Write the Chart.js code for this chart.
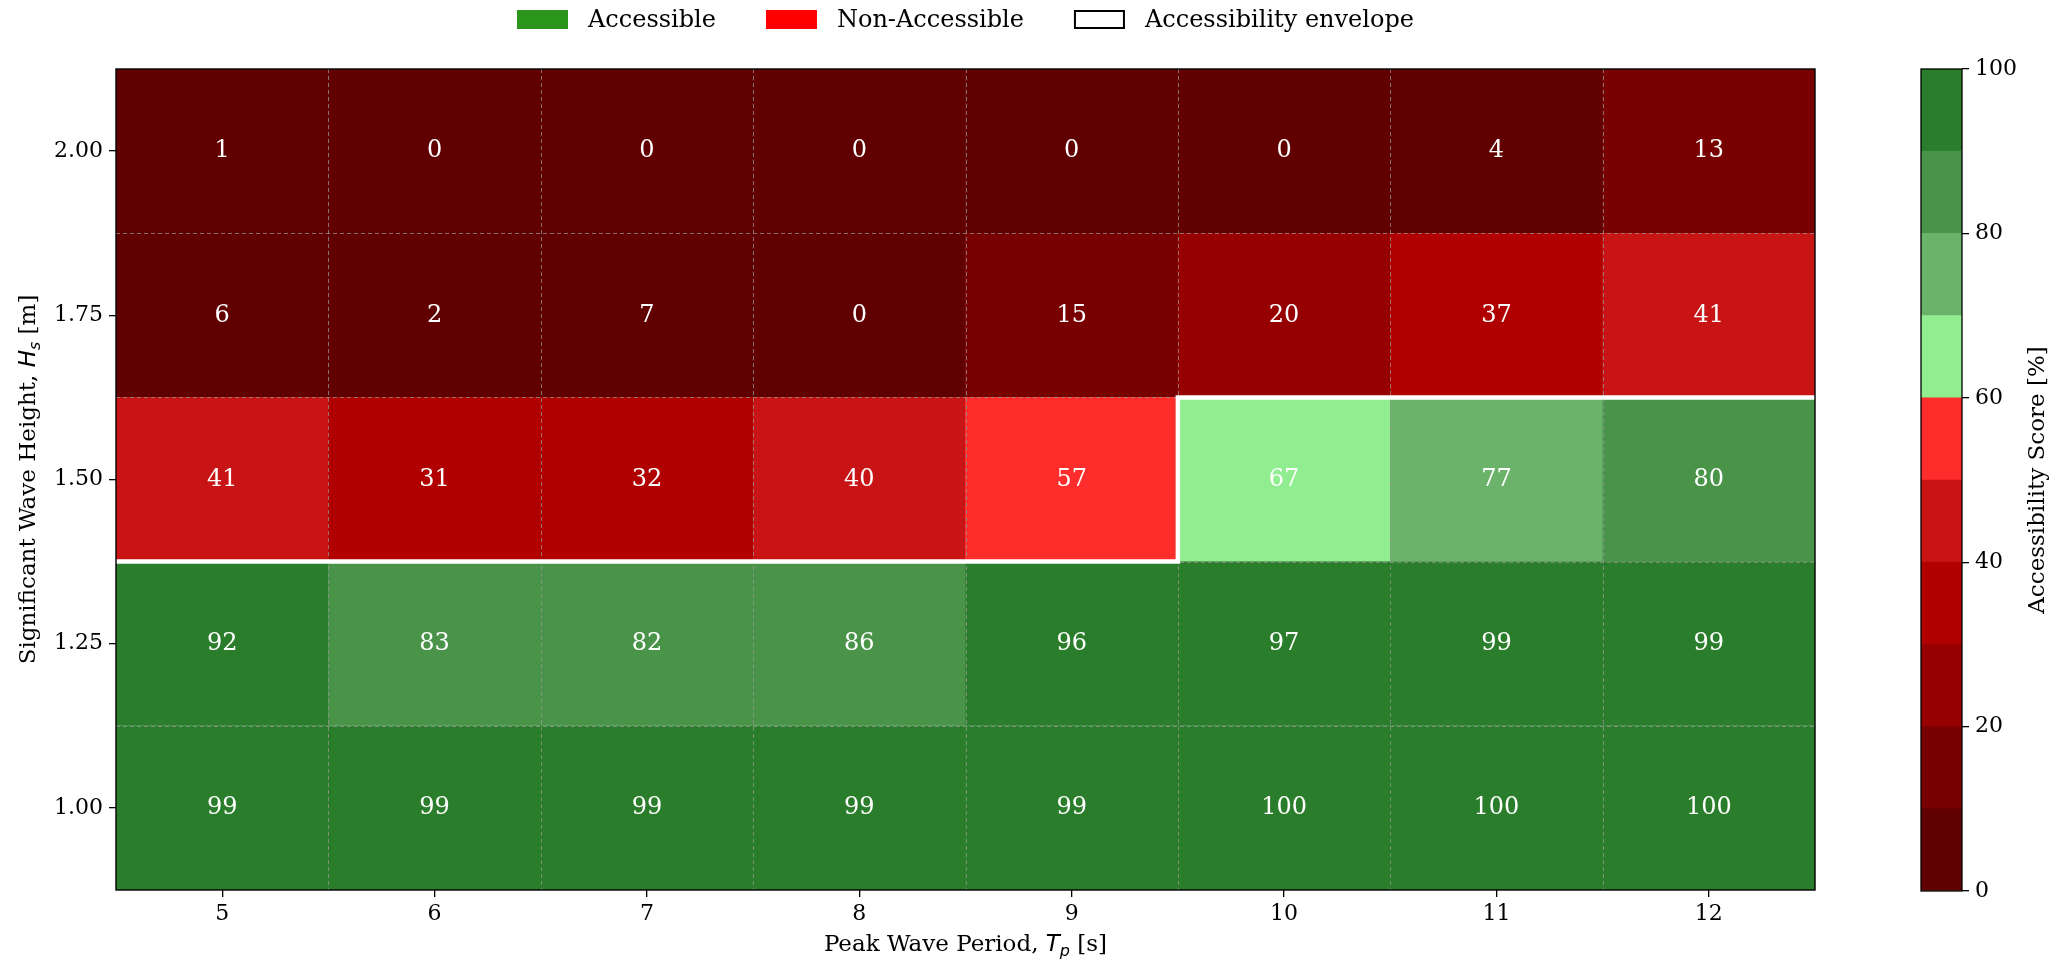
<!DOCTYPE html>
<html>
<head>
<meta charset="utf-8">
<script src="https://cdn.jsdelivr.net/npm/chart.js@4/dist/chart.umd.min.js"></script>
<style>
  html, body { margin: 0; padding: 0; background: #fff; }
  #wrap { position: relative; width: 2066px; height: 961px; overflow: hidden; }
  #wrap canvas { position: absolute; top: 0; }
</style>
</head>
<body>
<div id="wrap">
  <canvas id="heat" width="2066" height="961" style="left:0"></canvas>
  <canvas id="cbar" width="166" height="961" style="left:1900px"></canvas>
</div>
<script>
// Peak wave period Tp [s] (columns) and significant wave height Hs [m] (rows)
const periods = [5, 6, 7, 8, 9, 10, 11, 12];
const heights = [1.00, 1.25, 1.50, 1.75, 2.00];

// Accessibility score [%] for each Hs row, ordered by period
const scoreHs100 = [99, 99, 99, 99, 99, 100, 100, 100];
const scoreHs125 = [92, 83, 82, 86, 96, 97, 99, 99];
const scoreHs150 = [41, 31, 32, 40, 57, 67, 77, 80];
const scoreHs175 = [6, 2, 7, 0, 15, 20, 37, 41];
const scoreHs200 = [1, 0, 0, 0, 0, 0, 4, 13];
const scoreRows = [scoreHs100, scoreHs125, scoreHs150, scoreHs175, scoreHs200];

// Boundary between accessible and non-accessible sea states
const envelopeTp = [4.5, 9.5, 9.5, 12.5];
const envelopeHs = [1.375, 1.375, 1.625, 1.625];

// Discrete colour scale, 10 % per band
const binEdges = [0, 10, 20, 30, 40, 50, 60, 70, 80, 90, 100];
const binColors = ['#600000', '#780000', '#960000', '#b00000', '#c81414',
                   '#ff2c2c', '#90ee90', '#6bb36b', '#4a944a', '#2a7d2a'];
const colorbarTicks = [0, 20, 40, 60, 80, 100];

// Legend entries
const legendLabels = ['Accessible', 'Non-Accessible', 'Accessibility envelope'];
const legendFills = ['#2b951c', '#ff0000', '#ffffff'];

const SERIF = "'DejaVu Serif', 'Liberation Serif', serif";
const MATH = "'DejaVu Sans', sans-serif";
Chart.defaults.font.family = SERIF;
Chart.defaults.color = '#000';

function colorFor(v) {
  const i = Math.min(binColors.length - 1, Math.floor(v / 10));
  return binColors[i];
}

const halfRow = (heights[1] - heights[0]) / 2;
const halfCol = (periods[1] - periods[0]) / 2;

const cellSets = heights.map((hs, r) => ({
  type: 'bar',
  label: 'Hs ' + hs.toFixed(2),
  data: periods.map(tp => ({ x: tp, y: [hs - halfRow, hs + halfRow] })),
  backgroundColor: scoreRows[r].map(colorFor),
  borderColor: scoreRows[r].map(colorFor),
  borderWidth: 0.5,
  order: 2
}));

const envelopeSet = {
  type: 'line',
  label: 'Accessibility envelope',
  data: envelopeTp.map((tp, i) => ({ x: tp, y: envelopeHs[i] })),
  borderColor: '#ffffff',
  borderWidth: 4.5,
  pointRadius: 0,
  fill: false,
  tension: 0,
  order: 0
};

// Draw mixed-font text (for math subscripts) centred at (cx, cy)
function drawRich(ctx, parts, cx, cy, rot, size) {
  ctx.save();
  ctx.translate(cx, cy);
  ctx.rotate(rot);
  ctx.fillStyle = '#000';
  ctx.textBaseline = 'alphabetic';
  ctx.textAlign = 'left';
  let total = 0;
  parts.forEach(p => { ctx.font = p.font; p.w = ctx.measureText(p.text).width; total += p.w; });
  let x = -total / 2;
  const base = size * 0.36;
  parts.forEach(p => { ctx.font = p.font; ctx.fillText(p.text, x, base + (p.dy || 0)); x += p.w; });
  ctx.restore();
}

const heatDecor = {
  id: 'heatDecor',
  beforeDatasetDraw(chart, args) {
    if (args.meta.type !== 'line') return;
    // dashed cell boundaries
    const { ctx, chartArea: a, scales: { x, y } } = chart;
    ctx.save();
    ctx.strokeStyle = 'rgba(150,150,150,0.75)';
    ctx.lineWidth = 1;
    ctx.setLineDash([4, 3]);
    periods.slice(0, -1).forEach(tp => {
      const px = Math.round(x.getPixelForValue(tp + halfCol)) + 0.5;
      ctx.beginPath(); ctx.moveTo(px, a.top); ctx.lineTo(px, a.bottom); ctx.stroke();
    });
    heights.slice(0, -1).forEach(hs => {
      const py = Math.round(y.getPixelForValue(hs + halfRow)) + 0.5;
      ctx.beginPath(); ctx.moveTo(a.left, py); ctx.lineTo(a.right, py); ctx.stroke();
    });
    ctx.restore();
  },
  afterDatasetsDraw(chart) {
    const { ctx, chartArea: a, scales: { x, y } } = chart;
    // value labels
    ctx.save();
    ctx.fillStyle = '#ffffff';
    ctx.font = '24px ' + SERIF;
    ctx.textAlign = 'center';
    ctx.textBaseline = 'middle';
    heights.forEach((hs, r) => {
      periods.forEach((tp, c) => {
        ctx.fillText(String(scoreRows[r][c]), x.getPixelForValue(tp), y.getPixelForValue(hs));
      });
    });
    ctx.restore();
    // frame
    ctx.save();
    ctx.strokeStyle = '#000';
    ctx.lineWidth = 1.4;
    ctx.strokeRect(a.left, a.top, a.right - a.left, a.bottom - a.top);
    ctx.restore();
  },
  afterDraw(chart) {
    const { ctx, chartArea: a } = chart;
    const sz = 23;
    // axis titles
    drawRich(ctx, [
      { text: 'Peak Wave Period, ', font: sz + 'px ' + SERIF },
      { text: 'T', font: 'italic ' + sz + 'px ' + MATH },
      { text: 'p', font: 'italic ' + Math.round(sz * 0.7) + 'px ' + MATH, dy: 5 },
      { text: ' [s]', font: sz + 'px ' + SERIF }
    ], (a.left + a.right) / 2, 943, 0, sz);
    drawRich(ctx, [
      { text: 'Significant Wave Height, ', font: sz + 'px ' + SERIF },
      { text: 'H', font: 'italic ' + sz + 'px ' + MATH },
      { text: 's', font: 'italic ' + Math.round(sz * 0.7) + 'px ' + MATH, dy: 5 },
      { text: ' [m]', font: sz + 'px ' + SERIF }
    ], 27, (a.top + a.bottom) / 2, -Math.PI / 2, sz);

    // legend
    const lf = '24px ' + SERIF;
    ctx.save();
    ctx.font = lf;
    const boxW = 51, boxH = 19, gapText = 20, gapItem = 50;
    const widths = legendLabels.map(t => boxW + gapText + ctx.measureText(t).width);
    const total = widths.reduce((s, w) => s + w, 0) + gapItem * (widths.length - 1);
    let lx = (a.left + a.right) / 2 - total / 2;
    const top = 10;
    legendLabels.forEach((t, i) => {
      ctx.fillStyle = legendFills[i];
      ctx.fillRect(lx, top, boxW, boxH);
      if (i === 2) {
        ctx.strokeStyle = '#000';
        ctx.lineWidth = 2;
        ctx.strokeRect(lx + 1, top + 1, boxW - 2, boxH - 2);
      }
      ctx.fillStyle = '#000';
      ctx.textBaseline = 'middle';
      ctx.textAlign = 'left';
      ctx.fillText(t, lx + boxW + gapText, top + boxH / 2 + 1);
      lx += widths[i] + gapItem;
    });
    ctx.restore();
  }
};

new Chart(document.getElementById('heat'), {
  type: 'bar',
  data: { datasets: [...cellSets, envelopeSet] },
  options: {
    responsive: false,
    animation: false,
    devicePixelRatio: 1,
    layout: { padding: { top: 69, right: 251, bottom: 0, left: 0 } },
    plugins: { legend: { display: false }, tooltip: { enabled: false } },
    datasets: { bar: { grouped: false, barPercentage: 1, categoryPercentage: 1 } },
    scales: {
      x: {
        type: 'linear',
        offset: false,
        min: periods[0] - halfCol,
        max: periods[periods.length - 1] + halfCol,
        afterBuildTicks(s) { s.ticks = periods.map(v => ({ value: v })); },
        afterFit(s) { s.height = 71; },
        ticks: { font: { size: 22 }, color: '#000', padding: 4, autoSkip: false, maxRotation: 0,
                 callback: v => String(v) },
        grid: { offset: false, drawOnChartArea: false, tickLength: 7, color: '#000', lineWidth: 1.3 },
        border: { display: false }
      },
      y: {
        type: 'linear',
        min: heights[0] - halfRow,
        max: heights[heights.length - 1] + halfRow,
        afterBuildTicks(s) { s.ticks = heights.map(v => ({ value: v })); },
        afterFit(s) { s.width = 116; },
        ticks: { font: { size: 22 }, color: '#000', padding: 6, autoSkip: false,
                 callback: v => Number(v).toFixed(2) },
        grid: { drawOnChartArea: false, tickLength: 7, color: '#000', lineWidth: 1.3 },
        border: { display: false }
      }
    }
  },
  plugins: [heatDecor]
});

// Colour bar
const cbarDecor = {
  id: 'cbarDecor',
  afterDatasetsDraw(chart) {
    const { ctx, chartArea: a } = chart;
    ctx.save();
    ctx.strokeStyle = '#000';
    ctx.lineWidth = 1.3;
    ctx.strokeRect(a.left, a.top, a.right - a.left, a.bottom - a.top);
    ctx.restore();
  },
  afterDraw(chart) {
    const { ctx, chartArea: a } = chart;
    ctx.save();
    ctx.translate(138, (a.top + a.bottom) / 2);
    ctx.rotate(-Math.PI / 2);
    ctx.font = '23px ' + SERIF;
    ctx.fillStyle = '#000';
    ctx.textAlign = 'center';
    ctx.textBaseline = 'middle';
    ctx.fillText('Accessibility Score [%]', 0, 0);
    ctx.restore();
  }
};

new Chart(document.getElementById('cbar'), {
  type: 'bar',
  data: {
    labels: [''],
    datasets: binColors.map((c, i) => ({
      label: binEdges[i] + '-' + binEdges[i + 1],
      data: [[binEdges[i], binEdges[i + 1]]],
      backgroundColor: c,
      borderWidth: 0
    }))
  },
  options: {
    responsive: false,
    animation: false,
    devicePixelRatio: 1,
    layout: { padding: { top: 69, bottom: 70, left: 21, right: 0 } },
    plugins: { legend: { display: false }, tooltip: { enabled: false } },
    datasets: { bar: { grouped: false, barPercentage: 1, categoryPercentage: 1 } },
    scales: {
      x: { display: false },
      y: {
        position: 'right',
        min: 0,
        max: 100,
        afterBuildTicks(s) { s.ticks = colorbarTicks.map(v => ({ value: v })); },
        afterFit(s) { s.width = 104; },
        ticks: { font: { size: 22 }, color: '#000', padding: 6 },
        grid: { drawOnChartArea: false, tickLength: 7, color: '#000', lineWidth: 1.3 },
        border: { display: false }
      }
    }
  },
  plugins: [cbarDecor]
});
</script>
</body>
</html>
